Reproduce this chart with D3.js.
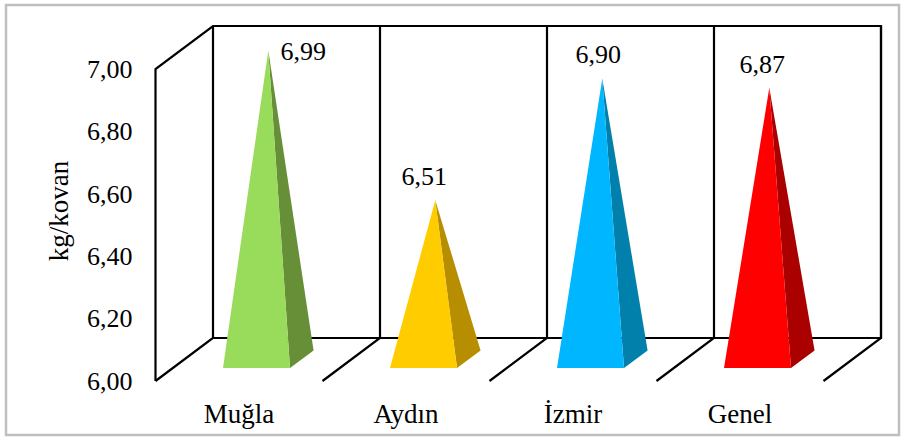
<!DOCTYPE html>
<html>
<head>
<meta charset="utf-8">
<script src="https://cdn.jsdelivr.net/npm/d3@7/dist/d3.min.js"></script>
<style>
html,body{margin:0;padding:0;background:#fff}
svg{display:block}
text{font-family:"Liberation Serif","Times New Roman",serif;fill:#000;font-size:26px}
</style>
</head>
<body>
<svg id="chart" width="903" height="438"></svg>
<script>
// Honey yield per hive by province, drawn as 3D pyramids
const categories = ["Muğla", "Aydın", "İzmir", "Genel"];
const values = [6.99, 6.51, 6.90, 6.87];
const valueLabels = ["6,99", "6,51", "6,90", "6,87"];
const yTicks = [6.0, 6.2, 6.4, 6.6, 6.8, 7.0];
const frontColors = ["#99DB5A", "#FFCC00", "#00B7FF", "#FF0000"];
const sideColors = ["#668F38", "#B78E00", "#0080AA", "#AA0000"];

// Nudges that keep each value label clear of its pyramid tip
const labelNudgeX = [35, -11, -4, -7];
const labelNudgeY = [10, -15, -15, -15];

const svg = d3.select("#chart");
const depth = {x: 57.5, y: -43};

const x = d3.scaleBand().domain(categories).range([155.5, 823.5]).padding(0);
const y = d3.scaleLinear().domain([6, 7]).range([381, 69]);

// Outer chart border
svg.append("rect").attr("x", 6).attr("y", 5).attr("width", 893).attr("height", 430)
  .attr("fill", "#fff").attr("stroke", "#BFBFBF").attr("stroke-width", 2.5);

// Walls and floor of the 3D box
const wall = svg.append("g").attr("fill", "none").attr("stroke", "#000").attr("stroke-width", 2.2);
const x0 = x.range()[0], x1 = x.range()[1];
const line = d3.line();
wall.append("path").attr("d", line([
  [x0, y(6)], [x0, y(7)], [x0 + depth.x, y(7) + depth.y],
  [x1 + depth.x, y(7) + depth.y], [x1 + depth.x, y(6) + depth.y], [x0 + depth.x, y(6) + depth.y]
]));
wall.append("path").attr("d", line([[x0, y(6)], [x0 + depth.x, y(6) + depth.y], [x0 + depth.x, y(7) + depth.y]]));
categories.forEach(c => {
  const r = x(c) + x.bandwidth();
  wall.append("path").attr("d", line([
    [r, y(6)], [r + depth.x, y(6) + depth.y], [r + depth.x, y(7) + depth.y]
  ]));
});

// Pyramids: the base sits inside each band and part way back on the floor
const baseInsetLeft = 67.5, baseWidth = 67;
const baseFront = 0.30, baseBack = 0.71;
const baseMid = (baseFront + baseBack) / 2;
const pyramids = svg.append("g").selectAll("g").data(categories).join("g");
pyramids.each(function(c, i) {
  const g = d3.select(this);
  const left = x(c) + baseInsetLeft, right = left + baseWidth;
  const frontY = y(6) + baseFront * depth.y;
  const apex = [(left + right) / 2 + (baseMid - baseFront) * depth.x, y(values[i]) + baseMid * depth.y];
  const bl = [left, frontY], br = [right, frontY];
  const sr = [right + (baseBack - baseFront) * depth.x, y(6) + baseBack * depth.y];
  g.append("path").attr("d", line([apex, br, sr])).attr("fill", sideColors[i]);
  g.append("path").attr("d", line([apex, bl, br])).attr("fill", frontColors[i]);
  g.append("text").attr("text-anchor", "middle")
    .attr("x", apex[0] + labelNudgeX[i]).attr("y", apex[1] + labelNudgeY[i])
    .text(valueLabels[i]);
});

// Vertical axis labels
const yAxis = d3.axisLeft(y).tickValues(yTicks)
  .tickFormat(v => d3.format(".2f")(v).replace(".", ",")).tickSize(0).tickPadding(23);
const yG = svg.append("g").attr("transform", `translate(${x0},0)`).call(yAxis);
yG.select(".domain").remove();
yG.selectAll("text").attr("dy", "0.32em");
yG.attr("font-family", null).attr("font-size", null);

// Category labels
const xAxis = d3.axisBottom(x).tickSize(0).tickPadding(0);
const xG = svg.append("g").attr("transform", "translate(0,423)").call(xAxis);
xG.select(".domain").remove();
xG.selectAll("text").attr("dy", 0).attr("y", 0).style("font-size", "27px");
xG.attr("font-family", null).attr("font-size", null);

svg.append("text").attr("text-anchor", "middle").style("font-size", "27px")
  .attr("transform", "translate(67.5,211) rotate(-90)").text("kg/kovan");
</script>
</body>
</html>
